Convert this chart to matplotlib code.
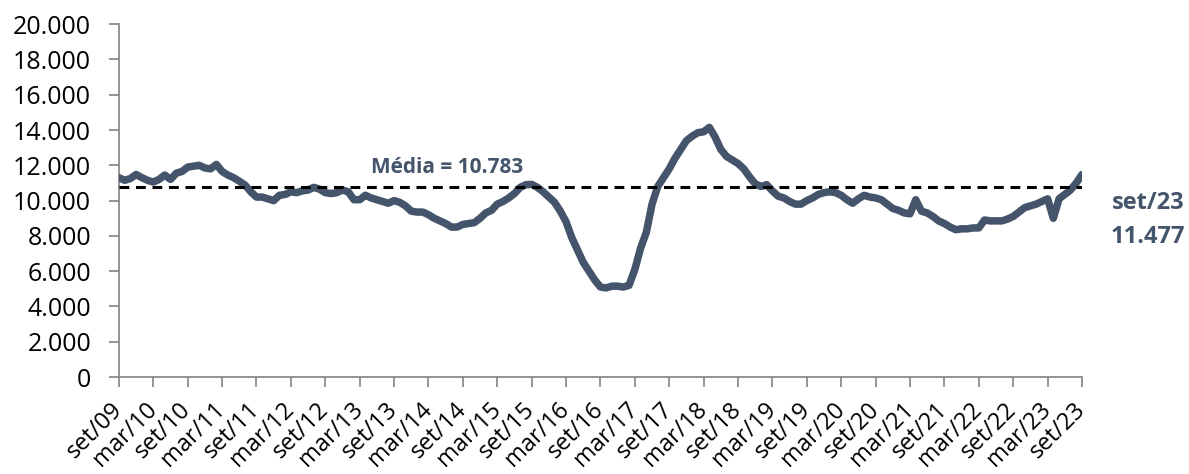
"""
plot.py
=======
Série mensal set/09 – set/23 com linha da média
"""

import matplotlib
matplotlib.use("Agg")
import matplotlib.pyplot as plt
from matplotlib.ticker import FuncFormatter

# ── Dados ─────────────────────────────────────────────────────────
years = list(range(2009, 2024))
tick_labels = []
for yr in years:
    if yr > 2009:
        tick_labels.append(f"mar/{yr % 100:02d}")
    tick_labels.append(f"set/{yr % 100:02d}")

values = [
    11300, 11150, 11250, 11480, 11300, 11150, 11050, 11200, 11450, 11200,   # 0-9
    11550, 11650, 11900, 11950, 12000, 11850, 11800, 12050, 11650, 11450,   # 10-19
    11300, 11100, 10880, 10500, 10200, 10200, 10100, 10000, 10300, 10350,   # 20-29
    10500, 10450, 10550, 10600, 10750, 10650, 10450, 10400, 10450, 10600,   # 30-39
    10500, 10050, 10050, 10300, 10150, 10050, 9950, 9850, 10000, 9900,      # 40-49
    9700, 9400, 9350, 9350, 9200, 9000, 8850, 8700, 8500, 8500,             # 50-59
    8650, 8700, 8750, 9000, 9300, 9450, 9800, 9950, 10150, 10400,           # 60-69
    10750, 10900, 10920, 10750, 10500, 10200, 9900, 9400, 8800, 7900,       # 70-79
    7200, 6500, 6000, 5500, 5100, 5050, 5150, 5150, 5100, 5200,             # 80-89
    6100, 7300, 8200, 9800, 10800, 11300, 11800, 12400, 12900, 13400,       # 90-99
    13650, 13850, 13900, 14150, 13600, 12900, 12500, 12300, 12100, 11800,   # 100-109
    11350, 10950, 10800, 10900, 10550, 10250, 10150, 9950, 9800, 9800,      # 110-119
    10000, 10150, 10350, 10450, 10500, 10450, 10300, 10050, 9850, 10100,    # 120-129
    10300, 10200, 10150, 10050, 9800, 9550, 9450, 9300, 9250, 10050,        # 130-139
    9400, 9300, 9100, 8850, 8700, 8500, 8350, 8400, 8400, 8450,             # 140-149
    8450, 8900, 8850, 8850, 8850, 8950, 9100, 9350, 9600, 9700,             # 150-159
    9800, 9950, 10100, 9000, 10100, 10350, 10600, 11000, 11477,             # 160-168
]
media = 10783
last_label = "set/23"
last_value = "11.477"

LINE_COLOR = "#44546A"


def fmt_pt(v, _pos=None):
    return f"{int(v):,}".replace(",", ".")


# ── Figura ────────────────────────────────────────────────────────
plt.rcParams["font.family"] = ["Open Sans", "DejaVu Sans"]

fig = plt.figure(figsize=(11.89, 4.74), dpi=100)
ax = fig.add_axes([0.100, 0.2046, 0.810, 0.7444])

x = list(range(len(values)))
ax.plot(x, values, color=LINE_COLOR, linewidth=5.4,
        solid_joinstyle="round", solid_capstyle="round", zorder=3)
ax.axhline(media, color="black", linewidth=2.2, linestyle=(0, (3.2, 2.2)), zorder=4)

ax.text(44, 11850, f"Média = {fmt_pt(media)}", color=LINE_COLOR,
        fontsize=15, fontweight="bold", ha="left", va="center")
ax.text(179.5, 9850, last_label, color=LINE_COLOR, fontsize=17,
        fontweight="bold", ha="center", va="center", clip_on=False)
ax.text(179.5, 7930, last_value, color=LINE_COLOR, fontsize=17,
        fontweight="bold", ha="center", va="center", clip_on=False)

ax.set_xlim(0, len(values) - 1)
ax.set_ylim(0, 20000)
ax.set_yticks(range(0, 20001, 2000))
ax.yaxis.set_major_formatter(FuncFormatter(fmt_pt))
ax.set_xticks(range(0, len(values), 6))
ax.set_xticklabels(tick_labels, rotation=45, ha="right", va="center",
                   rotation_mode="anchor", fontsize=17)

for side in ("top", "right"):
    ax.spines[side].set_visible(False)
for side in ("left", "bottom"):
    ax.spines[side].set_color("#8c8c8c")
    ax.spines[side].set_linewidth(1.3)
ax.tick_params(axis="y", labelsize=18, length=7, width=1.3,
               color="#8c8c8c", pad=13)
ax.tick_params(axis="x", length=7, width=1.3, color="#8c8c8c", pad=14)

fig.savefig("out.png", dpi=100)
plt.close(fig)
